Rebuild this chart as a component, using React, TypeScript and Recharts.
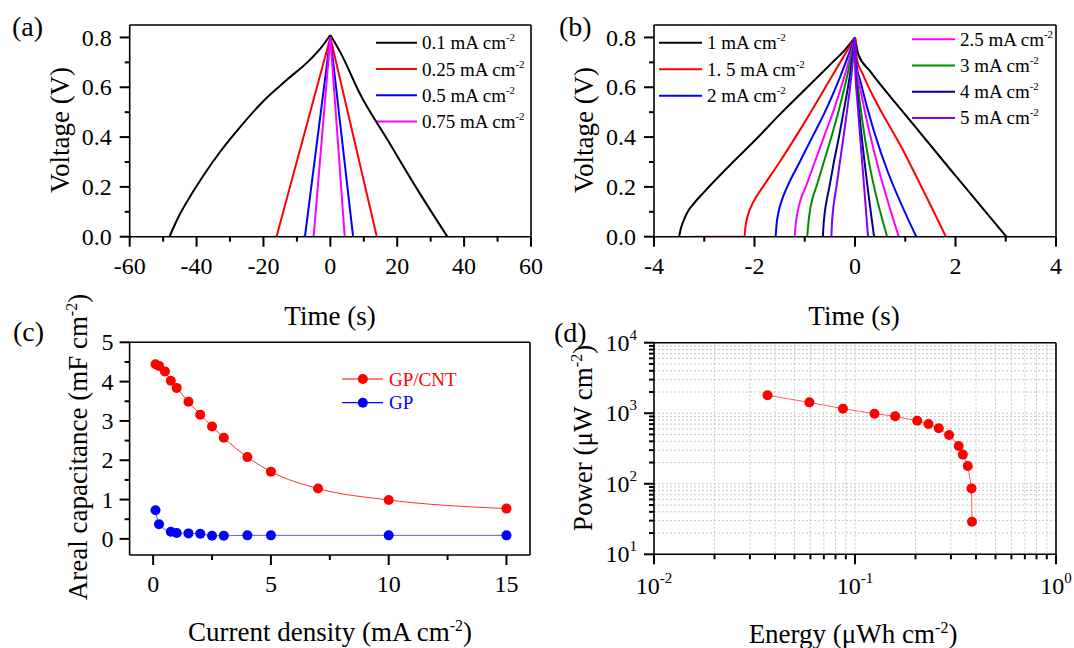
import React from "react"
import { LineChart, Line, XAxis, YAxis, CartesianGrid, Customized } from "recharts"

const FONT = "'Liberation Serif', 'Times New Roman', Times, serif"
const AXIS = { stroke: "#000", strokeWidth: 1.6 }

// [time (s), voltage (V)] pairs; peak shifted to t = 0
const pts = (arr: number[][]) => arr.map(([t, v]) => ({ t, v }))

// (a) low current densities
const gcdA01 = pts([[-48.1, 0], [-46.8, 0.04], [-45, 0.09], [-42, 0.16], [-38, 0.245], [-33, 0.34], [-27, 0.44], [-20, 0.545], [-13, 0.63], [-6.5, 0.705], [-3, 0.755], [0, 0.81], [3, 0.74], [9, 0.57], [17.5, 0.38], [26, 0.19], [35, 0]])
const gcdA025 = pts([[-17.0, 0], [-16.1, 0], [0, 0.8], [13.9, 0]])
const gcdA05 = pts([[-8.3, 0], [-7.6, 0], [0, 0.8], [6.8, 0]])
const gcdA075 = pts([[-5.6, 0], [-5.0, 0], [0, 0.8], [4.3, 0]])

// (b) high current densities
const gcdB1 = pts([[-3.5, 0], [-3.47, 0.03], [-3.42, 0.06], [-3.33, 0.1], [-3.2, 0.135], [-3.0, 0.18], [-2.5, 0.285], [-2.0, 0.385], [-1.5, 0.49], [-1.0, 0.59], [-0.5, 0.69], [-0.2, 0.75], [0, 0.8], [0.07, 0.73], [0.3, 0.665], [1.0, 0.49], [2.0, 0.245], [3.01, 0]])
const gcdB15 = pts([[-3.18, 0], [-2.2, 0], [-2.18, 0.04], [-2.14, 0.08], [-2.07, 0.12], [-1.98, 0.155], [-1.85, 0.195], [-1.5, 0.3], [-1.0, 0.46], [-0.5, 0.63], [0, 0.8], [0.04, 0.71], [0.15, 0.655], [1.0, 0.33], [1.81, 0]])
const gcdB2 = pts([[-1.58, 0], [-1.56, 0.05], [-1.52, 0.1], [-1.45, 0.15], [-1.35, 0.2], [-1.1, 0.3], [-0.85, 0.4], [-0.6, 0.5], [-0.3, 0.64], [0, 0.8], [0.03, 0.69], [0.1, 0.63], [1.22, 0]])
const gcdB25 = pts([[-1.2, 0], [-1.18, 0.05], [-1.14, 0.1], [-1.08, 0.15], [-0.98, 0.2], [-0.8, 0.3], [-0.62, 0.4], [-0.42, 0.51], [-0.2, 0.65], [0, 0.8], [0.025, 0.68], [0.08, 0.62], [0.87, 0]])
const gcdB3 = pts([[-0.95, 0], [-0.93, 0.05], [-0.9, 0.1], [-0.85, 0.15], [-0.77, 0.2], [-0.62, 0.3], [-0.47, 0.4], [-0.32, 0.51], [-0.15, 0.65], [0, 0.8], [0.02, 0.67], [0.06, 0.6], [0.64, 0]])
const gcdB4 = pts([[-0.64, 0], [-0.625, 0.05], [-0.6, 0.1], [-0.56, 0.15], [-0.51, 0.2], [-0.42, 0.3], [-0.32, 0.4], [-0.22, 0.51], [-0.1, 0.65], [0, 0.8], [0.015, 0.65], [0.05, 0.57], [0.38, 0]])
const gcdB5 = pts([[-0.47, 0], [-0.46, 0.05], [-0.44, 0.1], [-0.41, 0.15], [-0.37, 0.2], [-0.3, 0.3], [-0.23, 0.4], [-0.155, 0.51], [-0.07, 0.65], [0, 0.8], [0.012, 0.64], [0.04, 0.56], [0.26, 0]])

// (c) areal capacitance vs current density
const densityCnt = [0.1, 0.25, 0.5, 0.75, 1, 1.5, 2, 2.5, 3, 4, 5, 7, 10, 15]
const capCnt = [4.44, 4.4, 4.26, 4.02, 3.84, 3.49, 3.16, 2.86, 2.57, 2.08, 1.71, 1.28, 0.99, 0.77]
const densityGp = [0.1, 0.25, 0.75, 1, 1.5, 2, 2.5, 3, 4, 5, 10, 15]
const capGp = [0.73, 0.37, 0.18, 0.15, 0.14, 0.13, 0.08, 0.08, 0.09, 0.09, 0.09, 0.09]

// (d) Ragone plot
const energy = [0.0367, 0.0593, 0.0871, 0.125, 0.1585, 0.204, 0.232, 0.261, 0.294, 0.328, 0.344, 0.364, 0.38, 0.382]
const power = [1795, 1426, 1161, 986, 904, 784, 703, 611, 491, 343, 259, 179, 86, 29]

// ticks (all positions) and the labelled majors
const ticksAX = [-60, -50, -40, -30, -20, -10, 0, 10, 20, 30, 40, 50, 60]
const majorsAX = [-60, -40, -20, 0, 20, 40, 60]
const ticksBX = [-4, -3, -2, -1, 0, 1, 2, 3, 4]
const majorsBX = [-4, -2, 0, 2, 4]
const voltTicks = [0, 0.1, 0.2, 0.3, 0.4, 0.5, 0.6, 0.7, 0.8]
const voltMajors = [0, 0.2, 0.4, 0.6, 0.8]
const ticksCX = [0, 2.5, 5, 7.5, 10, 12.5, 15]
const majorsCX = [0, 5, 10, 15]
const ticksCY = [0, 0.5, 1, 1.5, 2, 2.5, 3, 3.5, 4, 4.5, 5]
const majorsCY = [0, 1, 2, 3, 4, 5]
const mantissas = [1, 2, 3, 4, 5, 6, 7, 8, 9]
const logTicks = (decades: number[]) => {
  const out: number[] = []
  decades.slice(0, -1).forEach((d) => mantissas.forEach((m) => out.push(Number((m * Math.pow(10, d)).toPrecision(3)))))
  out.push(Math.pow(10, decades[decades.length - 1]))
  return out
}
const ticksDX = logTicks([-2, -1, 0])
const ticksDY = logTicks([1, 2, 3, 4])
const majorsDX = [0.01, 0.1, 1]
const majorsDY = [10, 100, 1000, 10000]

const seriesA = [
  { label: "0.1 mA cm", data: gcdA01, color: "#000000", curve: "monotoneX" },
  { label: "0.25 mA cm", data: gcdA025, color: "#ff0000", curve: "linear" },
  { label: "0.5 mA cm", data: gcdA05, color: "#0000ff", curve: "linear" },
  { label: "0.75 mA cm", data: gcdA075, color: "#ff00ff", curve: "linear" },
]
const seriesB = [
  { label: "1 mA cm", data: gcdB1, color: "#000000", curve: "monotoneX" },
  { label: "1. 5 mA cm", data: gcdB15, color: "#ff0000", curve: "monotoneX" },
  { label: "2 mA cm", data: gcdB2, color: "#0000ff", curve: "monotoneX" },
  { label: "2.5 mA cm", data: gcdB25, color: "#ff00ff", curve: "monotoneX" },
  { label: "3 mA cm", data: gcdB3, color: "#008c00", curve: "monotoneX" },
  { label: "4 mA cm", data: gcdB4, color: "#000080", curve: "monotoneX" },
  { label: "5 mA cm", data: gcdB5, color: "#8000ff", curve: "monotoneX" },
]

// charge and discharge branches are drawn separately so the peak stays sharp
const splitAtPeak = (data: { t: number; v: number }[]) => {
  const k = data.reduce((bi, d, i) => (d.v > data[bi].v ? i : bi), 0)
  return [data.slice(0, k + 1), data.slice(k)]
}

const isMajor = (v: number, majors: number[]) => majors.some((m) => Math.abs(m - v) < 1e-9 * Math.max(1, Math.abs(m)))

// tick labels (tickSize 9 + tickMargin 1 -> anchor is 10px off the axis line)
const bottomLabel = (majors: number[], fmt: (v: number) => React.ReactNode, gap = 29, fs = 24) => (p: any) =>
  isMajor(p.payload.value, majors) ? (
    <text x={Number(p.x)} y={Number(p.y) - 10 + gap + fs * 0.34} textAnchor="middle" fontSize={fs} fontFamily={FONT} fill="#000">
      {fmt(p.payload.value)}
    </text>
  ) : (
    <g />
  )
const leftLabel = (majors: number[], fmt: (v: number) => React.ReactNode, gap = 18, fs = 24) => (p: any) =>
  isMajor(p.payload.value, majors) ? (
    <text x={Number(p.x) + 10 - gap} y={Number(p.y) + fs * 0.34} textAnchor="end" fontSize={fs} fontFamily={FONT} fill="#000">
      {fmt(p.payload.value)}
    </text>
  ) : (
    <g />
  )

const pow10 = (v: number) => (
  <>
    10<tspan dy={-11} fontSize={15}>{Math.round(Math.log10(v))}</tspan>
  </>
)

// outward tick marks as small filled bars, mapped from the tick values onto the plot box
const TickMarks = ({ f }: { f: any }) => {
  const frac = (v: number, [a, b]: number[]) => (f.log ? Math.log10(v / a) / Math.log10(b / a) : (v - a) / (b - a))
  const bottom = f.top + f.h
  return (
    <g fill="#000" stroke="none">
      {f.xTicks.map((v: number) => {
        const x = f.left + frac(v, f.xDomain) * f.w
        return <rect key={"x" + v} x={x - 1} y={bottom} width={2} height={isMajor(v, f.xMajors) ? 10 : 5} />
      })}
      {f.yTicks.map((v: number) => {
        const y = bottom - frac(v, f.yDomain) * f.h
        const len = isMajor(v, f.yMajors) ? 10 : 5
        return <rect key={"y" + v} x={f.left - len} y={y - 1} width={len} height={2} />
      })}
    </g>
  )
}

const axesFor = (o: any) => [
  <XAxis key="x" type="number" dataKey={o.xKey} scale={o.scale} domain={o.xDomain} ticks={o.xTicks} interval={0} allowDataOverflow height={40}
    axisLine={AXIS} tickLine={false} tickSize={9} tickMargin={1} tick={bottomLabel(o.xMajors, o.xFmt, o.xGap)} />,
  <YAxis key="y" type="number" scale={o.scale} domain={o.yDomain} ticks={o.yTicks} interval={0} allowDataOverflow width={o.yWidth}
    axisLine={AXIS} tickLine={false} tickSize={9} tickMargin={1} tick={leftLabel(o.yMajors, o.yFmt, o.yGap)} />,
  <XAxis key="xt" xAxisId="top" orientation="top" type="number" scale={o.scale} domain={o.xDomain} allowDataOverflow height={1}
    axisLine={AXIS} tick={false} tickLine={false} />,
  <YAxis key="yr" yAxisId="right" orientation="right" type="number" scale={o.scale} domain={o.yDomain} allowDataOverflow width={1}
    axisLine={AXIS} tick={false} tickLine={false} />,
]

// panel frames (plot box inside each chart's svg)
const frameA = { left: 129.7, top: 25, w: 401.3, h: 211.7, xDomain: [-60, 60], yDomain: [0, 0.85], xTicks: ticksAX, xMajors: majorsAX, yTicks: voltTicks, yMajors: voltMajors }
const frameB = { left: 117, top: 25, w: 402, h: 211.7, xDomain: [-4, 4], yDomain: [0, 0.85], xTicks: ticksBX, xMajors: majorsBX, yTicks: voltTicks, yMajors: voltMajors }
const frameC = { left: 129.6, top: 72.3, w: 400.4, h: 212.7, xDomain: [-1, 16], yDomain: [-0.41, 5], xTicks: ticksCX, xMajors: majorsCX, yTicks: ticksCY, yMajors: majorsCY }
const frameD = { left: 117, top: 72.7, w: 402, h: 211.6, log: true, xDomain: [0.01, 1], yDomain: [10, 10000], xTicks: ticksDX, xMajors: majorsDX, yTicks: ticksDY, yMajors: majorsDY }

// static texts: panel letters, axis titles, legends
const OverlayA = () => (
  <g fontFamily={FONT} fill="#000">
    <TickMarks f={frameA} />
    <text x={12} y={36} fontSize={28}>(a)</text>
    <text transform="translate(60,130) rotate(-90)" y={9} textAnchor="middle" fontSize={27}>Voltage (V)</text>
    <text x={330} y={325} textAnchor="middle" fontSize={27}>Time (s)</text>
    {seriesA.map((s, i) => {
      const y = 42.7 + i * 26.3
      return (
        <g key={s.label}>
          <line x1={376} x2={417} y1={y} y2={y} stroke={s.color} strokeWidth={2} />
          <text x={422} y={y + 6.5} fontSize={19}>
            {s.label}
            <tspan dy={-8} fontSize={11}>-2</tspan>
          </text>
        </g>
      )
    })}
  </g>
)

const OverlayB = () => (
  <g fontFamily={FONT} fill="#000">
    <TickMarks f={frameB} />
    <text x={22} y={36} fontSize={28}>(b)</text>
    <text transform="translate(47,130) rotate(-90)" y={9} textAnchor="middle" fontSize={27}>Voltage (V)</text>
    <text x={317} y={325} textAnchor="middle" fontSize={27}>Time (s)</text>
    {seriesB.map((s, i) => {
      const col2 = i >= 3
      const y = col2 ? 39.3 + (i - 3) * 26.2 : 42.7 + i * 26.5
      const x0 = col2 ? 375 : 122
      return (
        <g key={s.label}>
          <line x1={x0} x2={x0 + 43} y1={y} y2={y} stroke={s.color} strokeWidth={2} />
          <text x={x0 + 48} y={y + 6.5} fontSize={19}>
            {s.label}
            <tspan dy={-8} fontSize={11}>-2</tspan>
          </text>
        </g>
      )
    })}
  </g>
)

const OverlayC = () => (
  <g fontFamily={FONT} fill="#000">
    <TickMarks f={frameC} />
    <text x={13} y={71} fontSize={28}>(c)</text>
    <text transform="translate(78,177) rotate(-90)" y={9} textAnchor="middle" fontSize={27}>
      Areal capacitance (mF cm<tspan dy={-10} fontSize={16}>-2</tspan>
      <tspan dy={10}>)</tspan>
    </text>
    <text x={330} y={371} textAnchor="middle" fontSize={27}>
      Current density (mA cm<tspan dy={-10} fontSize={16}>-2</tspan>
      <tspan dy={10}>)</tspan>
    </text>
    <line x1={342} x2={383} y1={109} y2={109} stroke="#ff0000" strokeWidth={1.2} />
    <circle cx={362.8} cy={109} r={5} fill="#ff0000" />
    <text x={389} y={115.5} fontSize={19} fill="#ff0000">GP/CNT</text>
    <line x1={342} x2={383} y1={132.7} y2={132.7} stroke="#0000ff" strokeWidth={1.2} />
    <circle cx={362.8} cy={132.7} r={5} fill="#0000ff" />
    <text x={389} y={139.2} fontSize={19} fill="#0000ff">GP</text>
  </g>
)

const OverlayD = () => (
  <g fontFamily={FONT} fill="#000">
    <TickMarks f={frameD} />
    <text x={17} y={72} fontSize={28}>(d)</text>
    <text transform="translate(45.5,168) rotate(-90)" y={9} textAnchor="middle" fontSize={27}>
      Power (μW cm<tspan dy={-10} fontSize={16}>-2</tspan>
      <tspan dy={10}>)</tspan>
    </text>
    <text x={316} y={373} textAnchor="middle" fontSize={27}>
      Energy (μWh cm<tspan dy={-10} fontSize={16}>-2</tspan>
      <tspan dy={10}>)</tspan>
    </text>
  </g>
)

const capCntData = densityCnt.map((x, i) => ({ x, y: capCnt[i] }))
const capGpData = densityGp.map((x, i) => ({ x, y: capGp[i] }))
const ragoneData = energy.map((x, i) => ({ x, y: power[i] }))

function GcdPanel({ series, xDomain, xTicks, xMajors, width, yAxisWidth, right, overlay }: any) {
  return (
    <LineChart width={width} height={340} margin={{ top: 24, right: right - 1, bottom: 63.3, left: 0 }}>
      {axesFor({
        scale: "linear", xKey: "t", xDomain, xTicks, xMajors, xFmt: (v: number) => String(v), xGap: 29,
        yDomain: [0, 0.85], yTicks: voltTicks, yMajors: voltMajors, yFmt: (v: number) => v.toFixed(1), yGap: 18, yWidth: yAxisWidth,
      })}
      {series.flatMap((s: any) =>
        splitAtPeak(s.data).map((part, j) => (
          <Line key={s.label + j} data={part} dataKey="v" type={s.curve} stroke={s.color} strokeWidth={2} dot={false} isAnimationActive={false} />
        ))
      )}
      <Customized component={overlay} />
    </LineChart>
  )
}

export default function App() {
  return (
    <div style={{ position: "absolute", left: 0, top: 0, width: 1074, height: 648, background: "#fff" }}>
      <div style={{ position: "absolute", left: 0, top: 0 }}>
        <GcdPanel series={seriesA} xDomain={[-60, 60]} xTicks={ticksAX} xMajors={majorsAX} width={550} yAxisWidth={129.7} right={19} overlay={OverlayA} />
      </div>
      <div style={{ position: "absolute", left: 537, top: 0 }}>
        <GcdPanel series={seriesB} xDomain={[-4, 4]} xTicks={ticksBX} xMajors={majorsBX} width={537} yAxisWidth={117} right={18} overlay={OverlayB} />
      </div>

      <div style={{ position: "absolute", left: 0, top: 270 }}>
        <LineChart width={540} height={378} margin={{ top: 71.3, right: 9, bottom: 53, left: 0 }}>
          {axesFor({
            scale: "linear", xKey: "x", xDomain: [-1, 16], xTicks: ticksCX, xMajors: majorsCX, xFmt: (v: number) => String(v), xGap: 29,
            yDomain: [-0.41, 5], yTicks: ticksCY, yMajors: majorsCY, yFmt: (v: number) => String(v), yGap: 16, yWidth: 129.6,
          })}
          <Line data={capCntData} dataKey="y" name="GP/CNT" type="monotone" stroke="#ff3030" strokeWidth={1}
            dot={{ r: 5, fill: "#ff0000", stroke: "#ff0000", strokeWidth: 0 }} isAnimationActive={false} />
          <Line data={capGpData} dataKey="y" name="GP" type="monotone" stroke="#5a5aff" strokeWidth={1}
            dot={{ r: 5, fill: "#0000ff", stroke: "#0000ff", strokeWidth: 0 }} isAnimationActive={false} />
          <Customized component={OverlayC} />
        </LineChart>
      </div>

      <div style={{ position: "absolute", left: 537, top: 270 }}>
        <LineChart width={537} height={378} margin={{ top: 71.7, right: 17, bottom: 53.7, left: 0 }}>
          <CartesianGrid stroke="#c8c8c8" strokeDasharray="2 2" />
          {axesFor({
            scale: "log", xKey: "x", xDomain: [0.01, 1], xTicks: ticksDX, xMajors: majorsDX, xFmt: pow10, xGap: 32,
            yDomain: [10, 10000], yTicks: ticksDY, yMajors: majorsDY, yFmt: pow10, yGap: 17, yWidth: 117,
          })}
          <Line data={ragoneData} dataKey="y" type="linear" stroke="#ff6060" strokeWidth={1}
            dot={{ r: 5, fill: "#ff0000", stroke: "#ff0000", strokeWidth: 0 }} isAnimationActive={false} />
          <Customized component={OverlayD} />
        </LineChart>
      </div>
    </div>
  )
}
